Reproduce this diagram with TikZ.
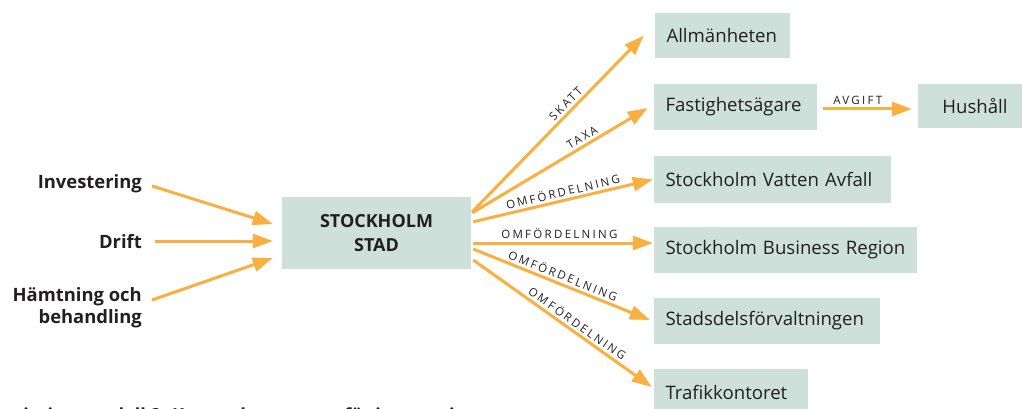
\documentclass[tikz,border=0pt]{standalone}
\usepackage{fontspec}
\setmainfont{Open Sans}
\newfontfamily\spacedfont[LetterSpace=20]{Open Sans}
\usetikzlibrary{arrows.meta,calc}
\definecolor{boxfill}{HTML}{CDE0DA}
\definecolor{arr}{HTML}{F9B040}
\definecolor{txt}{HTML}{231F20}
\begin{document}
\begin{tikzpicture}[x=1pt,y=-1pt,
  rbox/.style={fill=boxfill, text=txt, inner xsep=11.5pt, inner ysep=0pt, align=left,
    font=\fontsize{18.6}{22}\selectfont},
  cbox/.style={fill=boxfill, text=txt, inner sep=0pt, align=center,
    font=\fontsize{18.6}{22}\selectfont},
  src/.style={text=txt, inner sep=0pt, align=right, font=\bfseries\fontsize{18.4}{22}\selectfont},
  flow/.style={draw=arr, line width=3pt, -{Triangle[length=20pt,width=14pt]}},
  lbl/.style={font=\spacedfont\fontsize{11.5}{13}\selectfont, text=txt, sloped, above, inner sep=2.5pt}]
\useasboundingbox (0,0) rectangle (1022,409);

% boxes
\node[rbox, text width=112pt, minimum height=45pt] (allm) at (722.5,35.5) {\mbox{Allmänheten}};
\node[rbox, text width=140pt, minimum height=46pt] (fast) at (735.5,107) {\mbox{Fastighetsägare}};
\node[cbox, minimum width=114pt, minimum height=44pt] (hush) at (975,106) {Hushåll};
\node[rbox, text width=214pt, minimum height=47pt] (svab) at (772.5,179.5) {\mbox{Stockholm Vatten Avfall}};
\node[rbox, text width=240pt, minimum height=46pt] (sbr) at (785.5,250) {\mbox{Stockholm Business Region}};
\node[rbox, text width=203pt, minimum height=46pt] (sdf) at (767,321) {\mbox{Stadsdelsförvaltningen}};
\node[rbox, text width=131pt, minimum height=46pt] (trk) at (731,392) {\mbox{Trafikkontoret}};
\node[cbox, minimum width=189pt, minimum height=72pt, font=\bfseries\fontsize{18}{24}\selectfont] (stad) at (376.5,233) {STOCKHOLM\\STAD};

% sources
\node[src, anchor=east] (inv) at (142,184) {Investering};
\node[src, anchor=east] (drift) at (142,242) {Drift};
\node[src, anchor=east] (hamt) at (142,308) {Hämtning och\\behandling};

% incoming arrows
\draw[flow] ($(inv.east)+(10,2)$) -- ($(stad.west)+(-9,-9)$);
\draw[flow] ($(drift.east)+(13,-1)$) -- ($(stad.west)+(-9,8)$);
\draw[flow] ($(hamt.east)+(10,-8)$) -- ($(stad.west)+(-9,25)$);

% outgoing arrows
\draw[flow] ($(stad.north east)+(1,15)$) -- node[lbl, pos=0.58] {SKATT} ($(allm.west)+(-11,0)$);
\draw[flow] ($(stad.north east)+(1,16)$) -- node[lbl, pos=0.65] {TAXA} ($(fast.west)+(-6,1)$);
\draw[flow] ($(stad.north east)+(2,25)$) -- node[lbl, pos=0.51] {OMFÖRDELNING} ($(svab.west)+(-1,0)$);
\draw[flow] ($(stad.east)+(2,10)$) -- node[lbl, pos=0.48] {OMFÖRDELNING} ($(sbr.west)+(-1,-7)$);
\draw[flow] ($(stad.east)+(2,16)$) -- node[lbl, pos=0.49] {OMFÖRDELNING} ($(sdf.west)+(-4,-1)$);
\draw[flow] ($(stad.east)+(2,27)$) -- node[lbl, pos=0.555] {OMFÖRDELNING} ($(trk.west)+(-2,-5)$);
\draw[flow] ($(fast.east)+(6,2)$) -- node[lbl, pos=0.39] {AVGIFT} ($(hush.west)+(-6,3)$);

% caption cut off at bottom
\node[anchor=base west, inner sep=0pt, text=txt, font=\bfseries\fontsize{18}{20}\selectfont] (cap) at (172,421) {\llap{Finansieringsmodell 2: }Kostnader som tas för investeringar};
\end{tikzpicture}
\end{document}
